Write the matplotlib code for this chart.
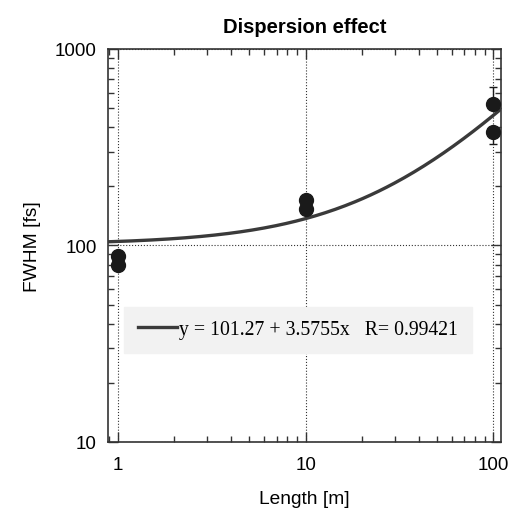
import matplotlib.pyplot as plt
import numpy as np
from matplotlib.lines import Line2D
from matplotlib.ticker import LogLocator, NullFormatter, FixedLocator, FixedFormatter

# measured data
length_m = [1, 1, 10, 10, 100, 100]
fwhm_fs = [88, 80, 170, 153, 524, 377]
fwhm_err_lo = [0, 0, 0, 0, 0, 50]
fwhm_err_hi = [0, 0, 0, 0, 115, 0]

# linear fit  y = a + b x
fit_a = 101.27
fit_b = 3.5755
fit_r = 0.99421

x_ticks = [1, 10, 100]
y_ticks = [10, 100, 1000]

fig = plt.figure(figsize=(5.09, 5.10), dpi=100)
ax = fig.add_axes([0.2122, 0.1314, 0.772, 0.7706])

xs = np.logspace(np.log10(0.885), np.log10(110), 200)
ax.plot(xs, fit_a + fit_b * xs, color='#3a3a3a', linewidth=2.4, zorder=3)

ax.errorbar(length_m, fwhm_fs, yerr=[fwhm_err_lo, fwhm_err_hi], fmt='o',
            color='#1a1a1a', markersize=10, elinewidth=1, capsize=3, zorder=4)

ax.set_xscale('log')
ax.set_yscale('log')
ax.set_xlim(0.885, 110)
ax.set_ylim(10, 1000)

ax.xaxis.set_major_locator(FixedLocator(x_ticks))
ax.xaxis.set_major_formatter(FixedFormatter([str(v) for v in x_ticks]))
ax.yaxis.set_major_locator(FixedLocator(y_ticks))
ax.yaxis.set_major_formatter(FixedFormatter([str(v) for v in y_ticks]))
ax.xaxis.set_minor_locator(LogLocator(base=10, subs=np.arange(2, 10)))
ax.yaxis.set_minor_locator(LogLocator(base=10, subs=np.arange(2, 10)))
ax.xaxis.set_minor_formatter(NullFormatter())
ax.yaxis.set_minor_formatter(NullFormatter())

ax.tick_params(which='both', direction='in', top=True, right=True, colors='#333333',
               labelcolor='black', labelsize=13.5)
ax.tick_params(which='major', length=7, width=1)
ax.tick_params(which='minor', length=4, width=1)
ax.tick_params(axis='x', pad=10)
ax.tick_params(axis='y', pad=8)
for lab in ax.get_xticklabels() + ax.get_yticklabels():
    lab.set_family('Liberation Sans')

ax.grid(True, which='major', linestyle=':', color='#333333', linewidth=0.8)
for sp in ax.spines.values():
    sp.set_color('#333333')
    sp.set_linewidth(1.2)

ax.set_title('Dispersion effect', fontsize=14.5, fontweight='bold',
             family='Liberation Sans', pad=12)
ax.set_xlabel('Length [m]', fontsize=13.8, family='Liberation Sans', labelpad=12)
ax.set_ylabel('FWHM [fs]', fontsize=13.8, family='Liberation Sans', labelpad=10)

handle = Line2D([], [], color='#3a3a3a', linewidth=2.4)
label = f'y = {fit_a} + {fit_b}x   R= {fit_r}'
leg = ax.legend([handle], [label], loc='lower left', bbox_to_anchor=(0.041, 0.226),
                prop={'family': 'Liberation Serif', 'size': 14.2},
                frameon=True, fancybox=False, handlelength=2.0, handletextpad=0.1,
                borderpad=0.7, borderaxespad=0)
leg.get_frame().set_facecolor('#f2f2f2')
leg.get_frame().set_edgecolor('#f2f2f2')
leg.get_frame().set_alpha(1)

fig.savefig('out.png', dpi=100)
